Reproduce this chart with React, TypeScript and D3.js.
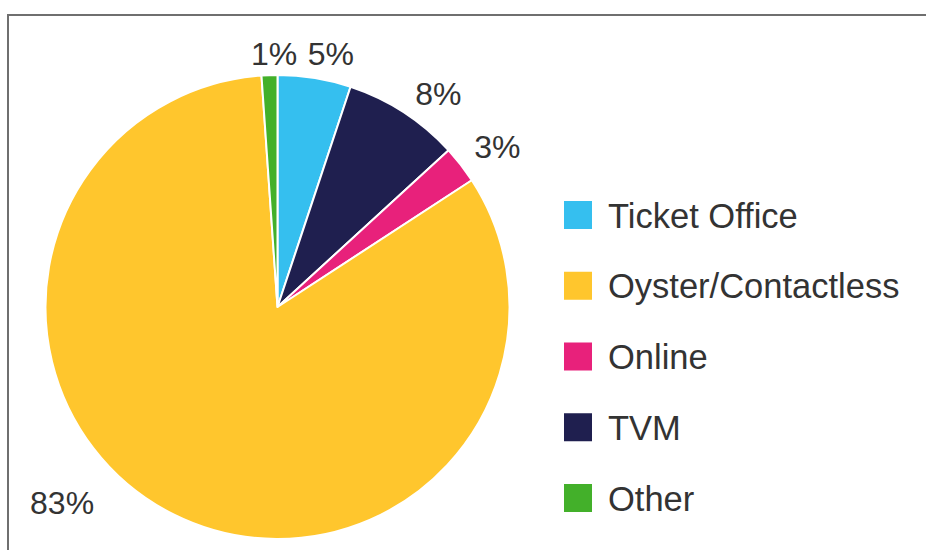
import React from "react";
import * as d3 from "d3";

// ---- data ----
const sliceOrder = ["Ticket Office", "TVM", "Online", "Oyster/Contactless", "Other"];
const sliceValues = [5.1, 8.1, 2.6, 83.1, 1.1];
const sliceLabels = ["5%", "8%", "3%", "83%", "1%"];
const legendOrder = ["Ticket Office", "Oyster/Contactless", "Online", "TVM", "Other"];
const colorByName: Record<string, string> = {
  "Ticket Office": "#35BFEF",
  "Oyster/Contactless": "#FFC62D",
  Online: "#E8217B",
  TVM: "#1F1F4F",
  Other: "#43B02A",
};

// ---- layout ----
const W = 926;
const H = 550;
const cx = 277.5;
const cy = 307;
const R = 232;
// label placement tweaks: [angle shift in degrees, label radius]
const labelPlacement: [number, number][] = [
  [2.7, 259],
  [4.0, 267.5],
  [1.7, 272],
  [21.3, 291],
  [1.2, 254],
];
const FONT = "'Liberation Sans', Arial, Helvetica, sans-serif";

export default function App() {
  const pie = d3
    .pie<number>()
    .sort(null)
    .value((d) => d)
    .startAngle(0)
    .endAngle(2 * Math.PI);
  const arcs = pie(sliceValues);
  const arc = d3.arc<d3.PieArcDatum<number>>().innerRadius(0).outerRadius(R);

  const legendY = d3
    .scalePoint<string>()
    .domain(legendOrder)
    .range([215, 498]);

  return (
    <svg
      width={W}
      height={H}
      style={{ position: "absolute", left: 0, top: 0, background: "#fff" }}
      fontFamily={FONT}
    >
      <rect x={0} y={0} width={W} height={H} fill="#fff" />
      <rect
        x={8}
        y={15}
        width={W + 20}
        height={H + 20}
        fill="none"
        stroke="#6f6f6f"
        strokeWidth={2}
      />
      <g transform={`translate(${cx},${cy})`}>
        {arcs.map((a, i) => (
          <path
            key={i}
            d={arc(a) || ""}
            fill={colorByName[sliceOrder[i]]}
            stroke="#fff"
            strokeWidth={2}
            strokeLinejoin="round"
          />
        ))}
        {arcs.map((a, i) => {
          const mid = (a.startAngle + a.endAngle) / 2;
          const [shift, lr] = labelPlacement[i];
          const ang = mid + (shift * Math.PI) / 180;
          const x = lr * Math.sin(ang);
          const y = -lr * Math.cos(ang);
          return (
            <text
              key={"l" + i}
              x={x}
              y={y + 11.5}
              textAnchor="middle"
              fontSize={32}
              fill="#333"
            >
              {sliceLabels[i]}
            </text>
          );
        })}
      </g>
      <g>
        {legendOrder.map((name) => {
          const y = legendY(name) as number;
          return (
            <g key={name}>
              <rect x={564} y={y - 14} width={28} height={28} fill={colorByName[name]} />
              <text x={608} y={y + 12.5} fontSize={34.5} fill="#333">
                {name}
              </text>
            </g>
          );
        })}
      </g>
    </svg>
  );
}
